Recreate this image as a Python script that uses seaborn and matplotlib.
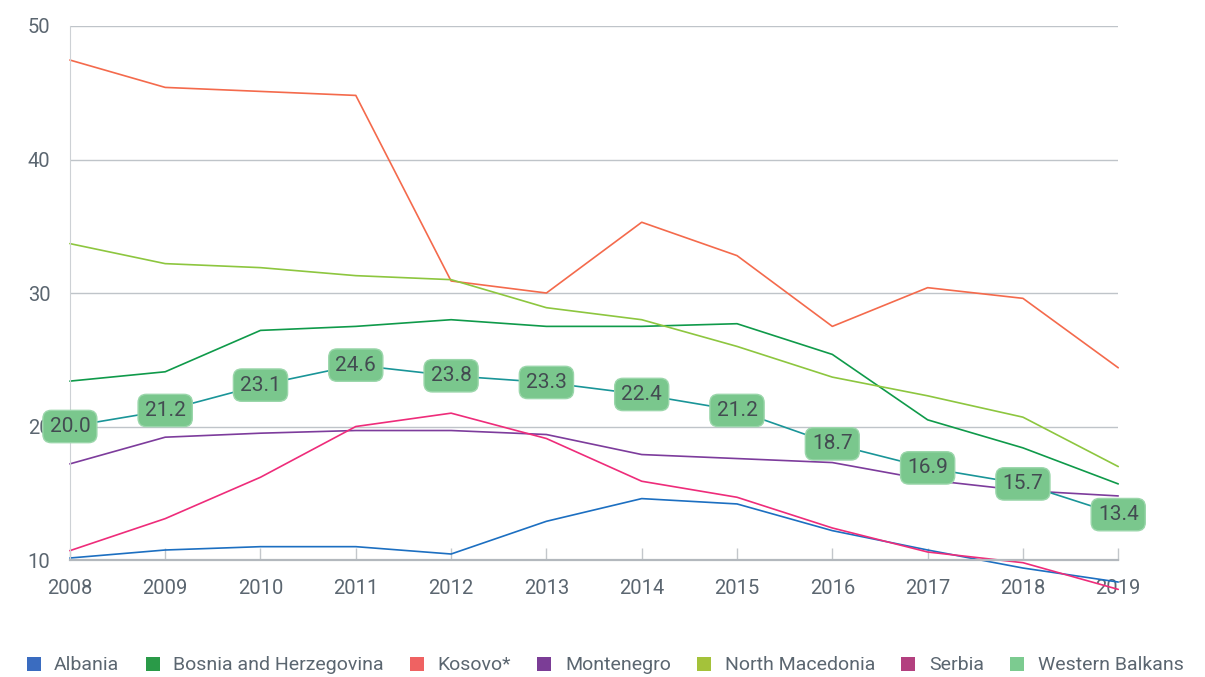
import matplotlib
matplotlib.use("Agg")
from matplotlib import pyplot as plt
from matplotlib.patches import Patch
import pandas as pd
import seaborn as sns

# data
years = list(range(2008, 2020))
albania = [10.15, 10.75, 11.0, 11.0, 10.45, 12.9, 14.6, 14.2, 12.2, 10.75, 9.4, 8.35]
bosnia = [23.4, 24.1, 27.2, 27.5, 28.0, 27.5, 27.5, 27.7, 25.4, 20.5, 18.4, 15.7]
kosovo = [47.45, 45.4, 45.1, 44.8, 30.9, 30.0, 35.3, 32.8, 27.5, 30.4, 29.6, 24.4]
montenegro = [17.2, 19.2, 19.5, 19.7, 19.7, 19.4, 17.9, 17.6, 17.3, 16.0, 15.2, 14.8]
macedonia = [33.7, 32.2, 31.9, 31.3, 31.0, 28.9, 28.0, 26.0, 23.7, 22.3, 20.7, 17.0]
serbia = [10.7, 13.1, 16.2, 20.0, 21.0, 19.1, 15.9, 14.7, 12.4, 10.6, 9.8, 7.8]
balkans = [20.0, 21.2, 23.1, 24.6, 23.8, 23.3, 22.4, 21.2, 18.7, 16.9, 15.7, 13.4]

names = ['Albania', 'Bosnia and Herzegovina', 'Kosovo*', 'Montenegro',
         'North Macedonia', 'Serbia', 'Western Balkans']
series = [albania, bosnia, kosovo, montenegro, macedonia, serbia, balkans]
line_colors = ['#1c6fc1', '#0f9a4a', '#f46a4c', '#7d3c9c', '#8dc63f',
               '#ee2c7a', '#1a9598']
legend_colors = ['#3a6cc0', '#2a9a48', '#ef6262', '#7b3d96', '#a4c23a',
                 '#b3407f', '#7ccb90']

rows = []
for name, vals in zip(names, series):
    for y, v in zip(years, vals):
        rows.append({'year': y, 'value': v, 'country': name})
df = pd.DataFrame(rows)

sns.set_style("white")
plt.rcParams['font.family'] = ['Roboto', 'DejaVu Sans']
text_col = '#5b6670'
grid_col = '#bfc4c9'

fig = plt.figure(figsize=(12.05, 6.77), dpi=100)
ax = fig.add_axes([0.058, 0.1728, 0.87, 0.7888])

sns.lineplot(ax=ax, data=df, x='year', y='value', hue='country',
             palette=dict(zip(names, line_colors)), linewidth=1.2,
             legend=False)
for line in ax.get_lines():
    line.set_clip_on(False)

ax.set_xlim(2008, 2019)
ax.set_ylim(10, 50)
ax.set_yticks([10, 20, 30, 40, 50])
ax.set_xticks(years)
ax.set(xlabel='', ylabel='')
ax.yaxis.grid(True, color=grid_col, linewidth=1)
ax.set_axisbelow(True)
for s in ['top', 'right']:
    ax.spines[s].set_visible(False)
ax.spines['left'].set_color('#cdd1d5')
ax.spines['bottom'].set_color('#b3b8bd')
ax.spines['bottom'].set_linewidth(1.6)
ax.tick_params(axis='x', bottom=True, direction='in', length=9, width=1,
               color='#c3c7cb', labelsize=14.5, labelcolor=text_col, pad=14)
ax.tick_params(axis='y', left=False, length=0, labelsize=14.5,
               labelcolor=text_col, pad=14)

# value labels for Western Balkans
for y, v in zip(years, balkans):
    ax.annotate('{:.1f}'.format(v), (y, v), ha='center', va='center',
                fontsize=15, color='#434b51', zorder=5,
                bbox=dict(boxstyle='round,pad=0.32,rounding_size=0.4',
                          fc='#7ac78d', ec='#9ad6aa', lw=1))

handles = [Patch(facecolor=c, edgecolor='none', label=n)
           for n, c in zip(names, legend_colors)]
fig.legend(handles=handles, loc='center left', bbox_to_anchor=(0.022, 0.017),
           ncol=7, frameon=False, fontsize=14, labelcolor=text_col,
           handlelength=0.72, handleheight=0.75, columnspacing=1.35,
           handletextpad=0.7, borderaxespad=0, borderpad=0)

plt.savefig('out.png', dpi=100)
